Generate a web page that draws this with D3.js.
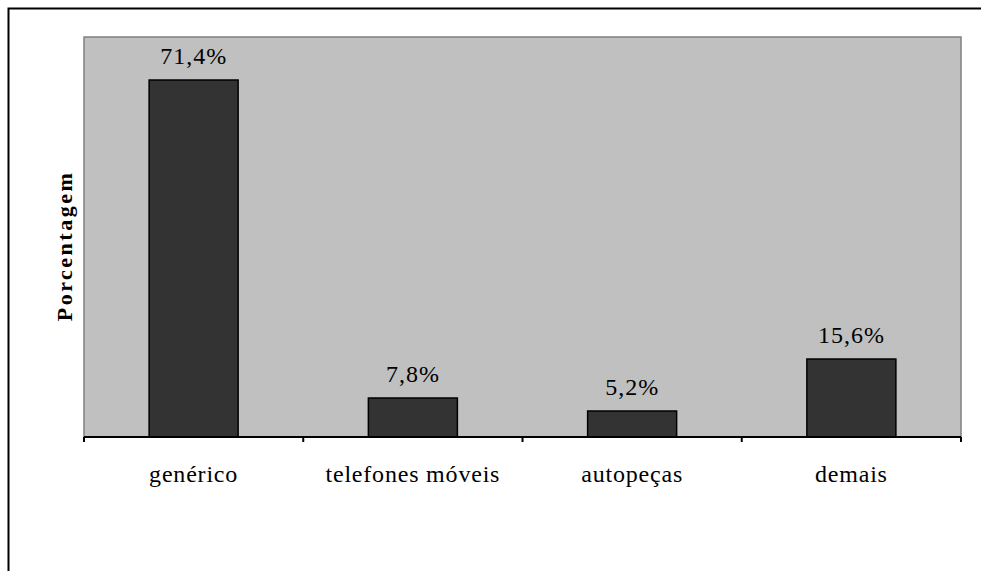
<!DOCTYPE html>
<html>
<head>
<meta charset="utf-8">
<script src="https://cdn.jsdelivr.net/npm/d3@7/dist/d3.min.js"></script>
<style>
  html, body { margin: 0; padding: 0; background: #fff; overflow: hidden; }
  svg { display: block; }
</style>
</head>
<body>
<svg id="chart" width="981" height="571"></svg>
<script>
// Share of items by category (%)
const categories = ["genérico", "telefones móveis", "autopeças", "demais"];
const values = [71.4, 7.8, 5.2, 15.6];
const valueLabels = ["71,4%", "7,8%", "5,2%", "15,6%"];
const yDomain = [0, 80];
const yTitle = "Porcentagem";

const FONT = "'Liberation Serif', serif";

const svg = d3.select("#chart");
const W = 981, H = 571;
const plot = { left: 84, right: 961, top: 37, bottom: 437 };

// outer frame: only the left and top edges fall inside the page
svg.append("path")
  .attr("d", `M8.5,${H} V8.5 H${W}`)
  .attr("fill", "none").attr("stroke", "#000").attr("stroke-width", 2);

const x = d3.scaleBand()
  .domain(categories)
  .range([plot.left, plot.right])
  .paddingInner(0.594)
  .paddingOuter(0.297);

const y = d3.scaleLinear()
  .domain(yDomain)
  .range([plot.bottom, plot.top]);

// plot area background
svg.append("rect")
  .attr("x", plot.left).attr("y", plot.top)
  .attr("width", plot.right - plot.left)
  .attr("height", plot.bottom - plot.top)
  .attr("fill", "#c0c0c0")
  .attr("stroke", "#808080").attr("stroke-width", 1.5);

// bars
svg.append("g").selectAll("rect")
  .data(values)
  .join("rect")
  .attr("x", (d, i) => x(categories[i]))
  .attr("y", d => y(d))
  .attr("width", x.bandwidth())
  .attr("height", d => y(0) - y(d))
  .attr("fill", "#333333")
  .attr("stroke", "#000")
  .attr("stroke-width", 1.5);

// value labels
svg.append("g").selectAll("text")
  .data(values)
  .join("text")
  .attr("x", (d, i) => x(categories[i]) + x.bandwidth() / 2)
  .attr("y", d => y(d) - 16)
  .attr("text-anchor", "middle")
  .attr("font-family", FONT)
  .attr("font-size", 24)
  .attr("letter-spacing", 1)
  .attr("fill", "#000")
  .text((d, i) => valueLabels[i]);

// category axis: ticks sit on the band boundaries
const xAxis = svg.append("g")
  .attr("transform", `translate(0,${plot.bottom})`);
xAxis.append("line")
  .attr("x1", plot.left).attr("x2", plot.right)
  .attr("stroke", "#000").attr("stroke-width", 2);
const boundaries = categories.map((c, i) => plot.left + i * x.step());
boundaries.push(plot.right);
xAxis.selectAll("line.tick")
  .data(boundaries)
  .join("line")
  .attr("class", "tick")
  .attr("x1", d => d).attr("x2", d => d)
  .attr("y1", 0).attr("y2", 5)
  .attr("stroke", "#000").attr("stroke-width", 2);
xAxis.selectAll("text")
  .data(categories)
  .join("text")
  .attr("x", d => x(d) + x.bandwidth() / 2)
  .attr("y", 45)
  .attr("text-anchor", "middle")
  .attr("font-family", FONT)
  .attr("font-size", 24)
  .attr("letter-spacing", 0.8)
  .attr("fill", "#000")
  .text(d => d);

// y axis title
svg.append("text")
  .attr("transform", "translate(72,246) rotate(-90)")
  .attr("text-anchor", "middle")
  .attr("font-family", FONT)
  .attr("font-size", 22)
  .attr("font-weight", "bold")
  .attr("letter-spacing", 2.5)
  .attr("fill", "#000")
  .text(yTitle);
</script>
</body>
</html>
